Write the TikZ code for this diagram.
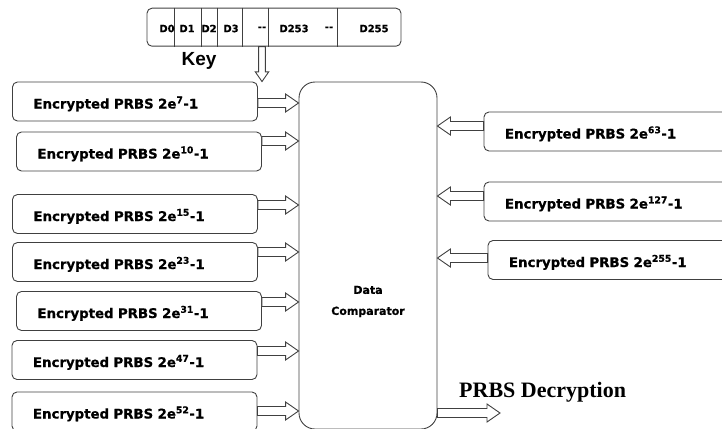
\documentclass[tikz,border=0pt]{standalone}
\usepackage{fontspec}
\newfontfamily\boxfont{DejaVu Sans}[BoldFeatures={FakeBold=0.6}]
\newfontfamily\keyfont{Liberation Sans}
\newfontfamily\capfont{Liberation Serif}
\usetikzlibrary{calc,positioning}

\tikzset{
  outline/.style={draw=black!75, line width=0.9pt},
  prbsbox/.style={outline, rounded corners=5pt, minimum width=245pt, minimum height=39pt,
    inner xsep=21pt, text width=203pt, align=left, text height=14pt, text depth=0pt,
    font=\boxfont\bfseries\fontsize{13.3}{15}\selectfont},
  cell/.style={font=\boxfont\bfseries\fontsize{10}{11}\selectfont, inner sep=0pt},
  fatarrow/.style={outline, fill=white, to path={
    let \p1=(\tikztostart), \p2=(\tikztotarget), \p3=($(\p2)!#1*13pt!(\p1)$) in
    ($(\p1)!#1*4.5pt!90:(\p2)$) -- ($(\p3)!#1*4.5pt!-90:(\p1)$) -- ($(\p3)!#1*9pt!-90:(\p1)$)
    -- (\p2) -- ($(\p3)!#1*9pt!90:(\p1)$) -- ($(\p3)!#1*4.5pt!90:(\p1)$)
    -- ($(\p1)!#1*4.5pt!-90:(\p2)$) -- cycle}},
  fatarrow/.default=1
}

\begin{document}
\begin{tikzpicture}[x=1pt, y=-1pt]
\useasboundingbox (0,0) rectangle (722,428);

% key register
\node[outline, rounded corners=5pt, minimum width=254pt, minimum height=38pt] (key) at (274,27.2) {};
\foreach \d in {174,201.5,217.5,242.5,268.5,337.5}
  \draw[outline] (\d,0 |- key.north) -- (\d,0 |- key.south);
\foreach \x/\t in {167/D0,187/D1,209/D2,231/D3,262/{-}{-},294/D253,329/{-}{-},374/D255}
  \node[cell] at (\x,28.5) {\t};
\node[anchor=base, font=\keyfont\bfseries\fontsize{19}{21}\selectfont] (keylabel) at (199,66) {Key};

% comparator
\node[outline, rounded corners=16pt, minimum width=138pt, minimum height=347pt] (cmp) at (368,255.5) {};
\node[align=center, font=\boxfont\bfseries\fontsize{11}{21}\selectfont] (cmplabel) at (368,301.5) {Data\\Comparator};

\coordinate (ka) at (262,0 |- key.south);
\coordinate (kb) at (ka |- cmp.north);
\draw[fatarrow=0.75] (ka) to (kb);

% left inputs
\foreach \i/\e/\x/\y/\ay in {1/7/135/101.5/103, 2/10/139/151.5/141, 3/15/135/214/205,
    4/23/135/262/252, 5/31/139/311/302, 6/47/134.5/360/351, 7/52/134.5/411.5/411}
{
  \node[prbsbox] (l\i) at (\x,\y) {Encrypted PRBS 2e\textsuperscript{\e}-1};
  \coordinate (la\i) at (l\i.east |- 0,\ay);
  \coordinate (lb\i) at (la\i -| cmp.west);
  \draw[fatarrow] (la\i) to (lb\i);
}

% right inputs
\foreach \i/\e/\x/\y/\ay in {1/63/614/131.5/126, 2/127/614/201.5/196, 3/255/618/260/258}
{
  \node[prbsbox, minimum width=260pt, text width=218pt] (r\i) at (\x,\y) {Encrypted PRBS 2e\textsuperscript{\e}-1};
  \coordinate (ra\i) at (r\i.west |- 0,\ay);
  \coordinate (rb\i) at (ra\i -| cmp.east);
  \draw[fatarrow] (ra\i) to (rb\i);
}

% output
\coordinate (oa) at (cmp.east |- 0,413);
\coordinate (ob) at (500,413);
\draw[fatarrow] (oa) to (ob);
\node[anchor=base west, inner sep=0pt, font=\capfont\bfseries\fontsize{22}{24}\selectfont] (outlabel) at (459,397) {PRBS Decryption};
\end{tikzpicture}
\end{document}
